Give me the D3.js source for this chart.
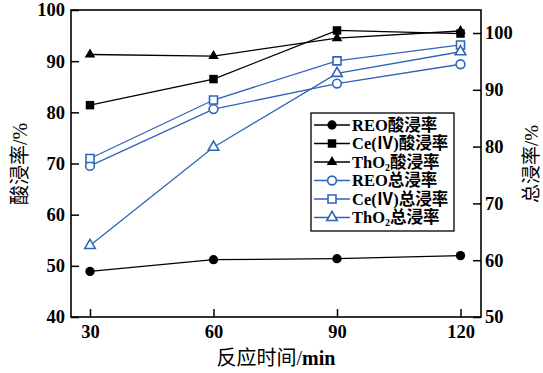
<!DOCTYPE html>
<html>
<head>
<meta charset="utf-8">
<script src="https://cdn.jsdelivr.net/npm/d3@7"></script>
<style>
  body { margin: 0; background: #fff; }
  svg text { font-family: 'Liberation Serif', 'Noto Sans CJK SC', serif; }
</style>
</head>
<body>
<svg width="543" height="373"></svg>
<script>
// data
let times = [30, 60, 90, 120]
let reoAcid = [48.9, 51.2, 51.4, 52.0]
let ceAcid = [81.4, 86.5, 96.0, 95.4]
let thAcid = [91.3, 91.0, 94.5, 95.9]
let reoTotal = [76.6, 86.6, 91.1, 94.5]
let ceTotal = [77.9, 88.2, 95.1, 97.9]
let thTotal = [62.6, 79.9, 92.9, 96.7]
let leftTicks = [40, 50, 60, 70, 80, 90, 100]
let rightTicks = [50, 60, 70, 80, 90, 100]

let blue = '#2F65B9'
let series = [
  {name: 'REO', tail: '酸浸率', values: reoAcid, axis: 'left', shape: d3.symbolCircle, size: 68, color: '#000', open: false},
  {name: 'Ce(Ⅳ)', tail: '酸浸率', values: ceAcid, axis: 'left', shape: d3.symbolSquare, size: 72, color: '#000', open: false},
  {name: 'ThO', sub: '2', tail: '酸浸率', values: thAcid, axis: 'left', shape: d3.symbolTriangle, size: 48, color: '#000', open: false},
  {name: 'REO', tail: '总浸率', values: reoTotal, axis: 'right', shape: d3.symbolCircle, size: 60, color: blue, open: true},
  {name: 'Ce(Ⅳ)', tail: '总浸率', values: ceTotal, axis: 'right', shape: d3.symbolSquare, size: 64, color: blue, open: true},
  {name: 'ThO', sub: '2', tail: '总浸率', values: thTotal, axis: 'right', shape: d3.symbolTriangle, size: 48, color: blue, open: true}
]

let svg = d3.select('svg')
let plotL = 71, plotR = 481, plotT = 10, plotB = 317

let x = d3.scaleLinear().domain([30, 120]).range([90, 460.5])
let yL = d3.scaleLinear().domain([40, 100]).range([plotB, plotT])
let yR = d3.scaleLinear().domain([50, 100]).range([plotB, 33])

// frame
svg.append('rect')
  .attr('x', plotL).attr('y', plotT)
  .attr('width', plotR - plotL).attr('height', plotB - plotT)
  .attr('fill', 'none').attr('stroke', '#000').attr('stroke-width', 1.6)

function styleAxis (g) {
  g.select('.domain').remove()
  g.selectAll('.tick line').attr('stroke', '#000').attr('stroke-width', 1.5)
  g.selectAll('.tick text')
    .attr('fill', '#000')
    .attr('font-size', 18.5)
    .attr('font-weight', 'bold')
}

svg.append('g')
  .attr('transform', `translate(0,${plotB})`)
  .call(d3.axisBottom(x).tickValues(times).tickSize(-8).tickPadding(8))
  .call(styleAxis)

svg.append('g')
  .attr('transform', `translate(${plotL},0)`)
  .call(d3.axisLeft(yL).tickValues(leftTicks).tickSize(-8).tickPadding(6))
  .call(styleAxis)

svg.append('g')
  .attr('transform', `translate(${plotR},0)`)
  .call(d3.axisRight(yR).tickValues(rightTicks).tickSize(-8).tickPadding(4))
  .call(styleAxis)

// axis titles
svg.append('text')
  .attr('x', 276).attr('y', 365)
  .attr('text-anchor', 'middle')
  .attr('font-size', 20)
  .html('反应时间/<tspan font-weight="bold">min</tspan>')

svg.append('text')
  .attr('transform', 'translate(27,164) rotate(-90)')
  .attr('text-anchor', 'middle')
  .attr('font-size', 20)
  .text('酸浸率/%')

svg.append('text')
  .attr('transform', 'translate(538,164) rotate(-90)')
  .attr('text-anchor', 'middle')
  .attr('font-size', 19)
  .text('总浸率/%')

let line = d3.line()

series.forEach(function (s) {
  let y = s.axis === 'left' ? yL : yR
  let pts = times.map((t, i) => [x(t), y(s.values[i])])
  let g = svg.append('g')
  g.append('path')
    .attr('d', line(pts))
    .attr('fill', 'none')
    .attr('stroke', s.color)
    .attr('stroke-width', 1.3)
  g.selectAll('path.m')
    .data(pts)
    .join('path')
    .attr('class', 'm')
    .attr('transform', d => `translate(${d[0]},${d[1]})`)
    .attr('d', d3.symbol(s.shape, s.size))
    .attr('fill', s.open ? '#fff' : s.color)
    .attr('stroke', s.color)
    .attr('stroke-width', s.open ? 1.6 : 0)
})

// legend
let lg = svg.append('g')
lg.append('rect')
  .attr('x', 311).attr('y', 113)
  .attr('width', 143).attr('height', 118)
  .attr('fill', '#fff').attr('stroke', '#000').attr('stroke-width', 1.3)

series.forEach(function (s, i) {
  let cy = 125 + i * 18.5
  lg.append('line')
    .attr('x1', 314).attr('x2', 350)
    .attr('y1', cy).attr('y2', cy)
    .attr('stroke', s.color).attr('stroke-width', 1.3)
  lg.append('path')
    .attr('transform', `translate(332,${cy})`)
    .attr('d', d3.symbol(s.shape, s.size)())
    .attr('fill', s.open ? '#fff' : s.color)
    .attr('stroke', s.color)
    .attr('stroke-width', s.open ? 1.6 : 0)
  let t = lg.append('text')
    .attr('x', 352).attr('y', cy + 5.5)
    .attr('font-size', 16.5)
    .attr('font-weight', 'bold')
  t.append('tspan').text(s.name)
  if (s.sub) t.append('tspan').attr('font-size', 10).attr('dy', 3).text(s.sub)
  t.append('tspan').attr('dy', s.sub ? -3 : 0).text(s.tail)
})
</script>
</body>
</html>
